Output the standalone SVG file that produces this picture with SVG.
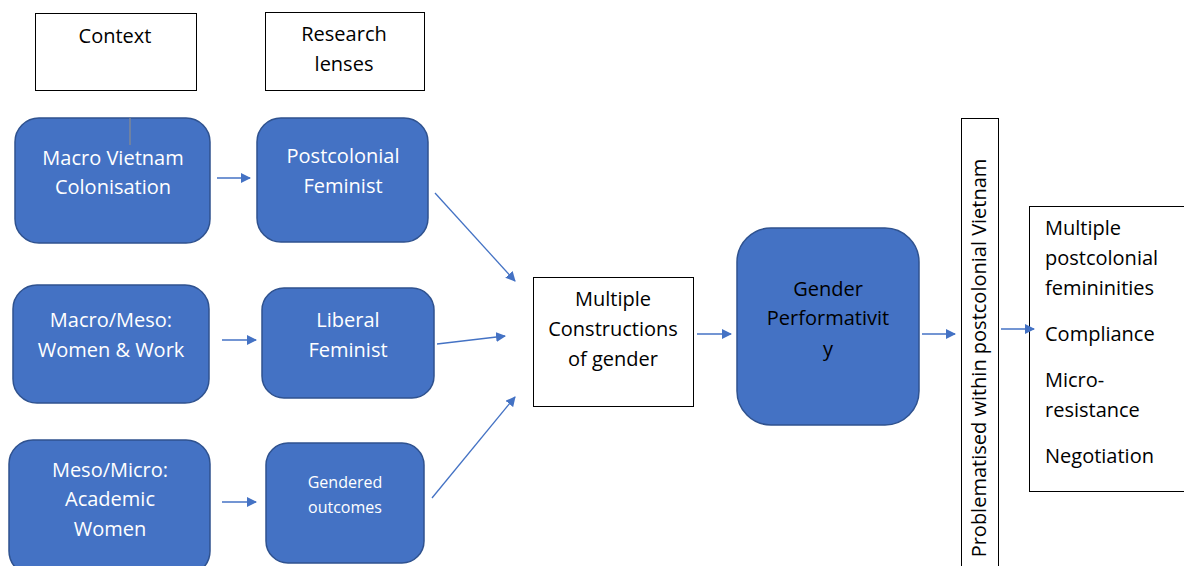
<svg xmlns="http://www.w3.org/2000/svg" width="1184" height="566" viewBox="0 0 1184 566">
<defs>
<style>
.blue{fill:#4472c4;stroke:#2f528f;stroke-width:1.5}
.wbox{fill:#fff;stroke:#000;stroke-width:1}
.t{font-family:"Open Sans","Liberation Sans",sans-serif;font-size:20px;text-anchor:middle}
.w{fill:#fff}
.k{fill:#000}
.c{stroke:#4472c4;stroke-width:1.3;fill:none;marker-end:url(#ah)}
</style>
<marker id="ah" viewBox="0 0 10 10" refX="9" refY="5" markerWidth="10" markerHeight="10" markerUnits="userSpaceOnUse" orient="auto">
<path d="M0,0 L10,5 L0,10 z" fill="#4472c4"/>
</marker>
</defs>
<rect width="1184" height="566" fill="#fff"/>
<g id="context"><rect class="wbox" x="35.5" y="13.5" width="161" height="77"/><text class="t k" x="115" y="43">Context</text></g>
<g id="lenses"><rect class="wbox" x="265.5" y="12.5" width="159" height="78"/><text class="t k" x="344" y="41">Research</text><text class="t k" x="344" y="71">lenses</text></g>
<g id="macro"><rect class="blue" x="15" y="118" width="195" height="125" rx="24"/><line x1="130" y1="118" x2="130" y2="145" stroke="#8c8c8c" stroke-width="1.2"/><text class="t w" x="113" y="165">Macro Vietnam</text><text class="t w" x="113" y="194">Colonisation</text></g>
<g id="postcolonial"><rect class="blue" x="257" y="118" width="171" height="124" rx="24"/><text class="t w" x="343" y="163">Postcolonial</text><text class="t w" x="343" y="193">Feminist</text></g>
<g id="macromeso"><rect class="blue" x="13" y="285" width="196" height="118" rx="24"/><text class="t w" x="111" y="327">Macro/Meso:</text><text class="t w" x="111" y="357">Women &amp; Work</text></g>
<g id="liberal"><rect class="blue" x="262" y="288" width="172" height="110" rx="22"/><text class="t w" x="348" y="327">Liberal</text><text class="t w" x="348" y="357">Feminist</text></g>
<g id="mesomicro"><rect class="blue" x="9" y="440" width="201" height="135" rx="24"/><text class="t w" x="110" y="477">Meso/Micro:</text><text class="t w" x="110" y="506">Academic</text><text class="t w" x="110" y="536">Women</text></g>
<g id="gendered"><rect class="blue" x="266" y="443" width="158" height="120" rx="22"/><text class="t w" x="345" y="488" style="font-size:16px">Gendered</text><text class="t w" x="345" y="513" style="font-size:16px">outcomes</text></g>
<g id="multiple"><rect class="wbox" x="533.5" y="277.5" width="160" height="129"/><text class="t k" x="613" y="306">Multiple</text><text class="t k" x="613" y="336">Constructions</text><text class="t k" x="613" y="366">of gender</text></g>
<g id="performativity"><rect class="blue" x="737" y="228" width="182" height="197" rx="34"/><text class="t k" x="828" y="296">Gender</text><text class="t k" x="828" y="325">Performativit</text><text class="t k" x="828" y="356">y</text></g>
<g id="problematised"><rect class="wbox" x="961.5" y="118.5" width="37" height="460"/><text class="t k" transform="translate(986,358) rotate(-90)" x="0" y="0">Problematised within postcolonial Vietnam</text></g>
<g id="outcomes"><rect class="wbox" x="1029.5" y="206.5" width="160" height="285"/>
<g class="k" style="font-family:'Open Sans','Liberation Sans',sans-serif;font-size:20px">
<text x="1045" y="235">Multiple</text><text x="1045" y="265">postcolonial</text><text x="1045" y="295">femininities</text><text x="1045" y="341">Compliance</text><text x="1045" y="387">Micro-</text><text x="1045" y="417">resistance</text><text x="1045" y="463">Negotiation</text></g></g>
<g id="connectors">
<line class="c" x1="217" y1="178" x2="250" y2="178"/>
<line class="c" x1="222" y1="340" x2="256" y2="340"/>
<line class="c" x1="222" y1="502" x2="256" y2="502"/>
<line class="c" x1="435" y1="193" x2="515" y2="281"/>
<line class="c" x1="437" y1="344" x2="505" y2="336"/>
<line class="c" x1="432" y1="498" x2="515" y2="397"/>
<line class="c" x1="697" y1="334" x2="731" y2="334"/>
<line class="c" x1="922" y1="334" x2="955" y2="334"/>
<line class="c" x1="1001" y1="329" x2="1034" y2="329"/>
</g>
</svg>
